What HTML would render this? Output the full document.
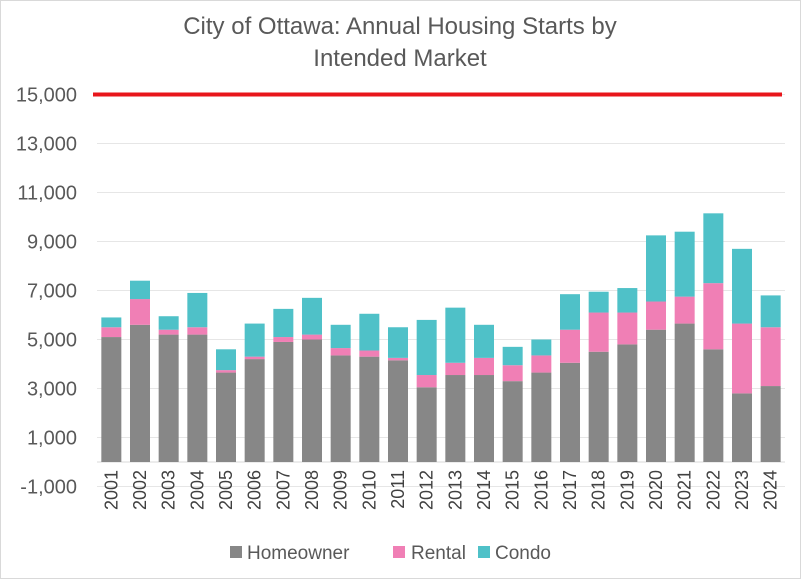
<!DOCTYPE html>
<html><head><meta charset="utf-8"><style>
html,body{margin:0;padding:0;background:#fff;}
body{width:801px;height:579px;overflow:hidden;}
svg{display:block;font-family:"Liberation Sans",sans-serif;}
</style></head><body>
<svg id="chart" width="801" height="579">
<rect x="0.5" y="0.5" width="800" height="578" fill="#fff" stroke="#d9d9d9"/>
<text x="400" y="34" text-anchor="middle" font-size="24" fill="#595959">City of Ottawa: Annual Housing Starts by</text>
<text x="400" y="66" text-anchor="middle" font-size="24" fill="#595959">Intended Market</text>
<g id="grid"></g><g id="bars"></g><g id="xlabels"></g><g id="ylabels"></g>
<g>
<rect x="230" y="546" width="12" height="12" fill="#878787"/>
<text x="247" y="559" font-size="19" fill="#595959">Homeowner</text>
<rect x="393" y="546" width="12" height="12" fill="#f07fb5"/>
<text x="411" y="559" font-size="19" fill="#595959">Rental</text>
<rect x="478" y="546" width="12" height="12" fill="#4fc1c8"/>
<text x="495" y="559" font-size="19" fill="#595959">Condo</text>
</g>
</svg>
<script>
const years=["2001","2002","2003","2004","2005","2006","2007","2008","2009","2010","2011","2012","2013","2014","2015","2016","2017","2018","2019","2020","2021","2022","2023","2024"];
const homeowner=[5100,5600,5200,5200,3650,4200,4900,5000,4350,4300,4150,3050,3550,3550,3300,3650,4050,4500,4800,5400,5650,4600,2800,3100];
const rental=[400,1050,200,300,100,100,200,200,300,250,100,500,500,700,650,700,1350,1600,1300,1150,1100,2700,2850,2400];
const condo=[400,750,550,1400,850,1350,1150,1500,950,1500,1250,2250,2250,1350,750,650,1450,850,1000,2700,2650,2850,3050,1300];
const yTicks=[-1000,1000,3000,5000,7000,9000,11000,13000,15000];
const targetLine=15000;
const NS="http://www.w3.org/2000/svg";
const x0=97,x1=785,y0px=462,pxPer=24.5/1000;
const slot=(x1-x0)/years.length,bw=20;
function yS(v){return y0px-v*pxPer;}
function xC(i){return x0+slot*(i+0.5);}
function mk(t,a,p){const e=document.createElementNS(NS,t);for(const k in a)e.setAttribute(k,a[k]);p.appendChild(e);return e;}
const grid=document.getElementById('grid'),bars=document.getElementById('bars'),xl=document.getElementById('xlabels'),yl=document.getElementById('ylabels');
yTicks.forEach(v=>{
 const l=mk('line',{x1:x0,x2:x1,y1:yS(v),y2:yS(v),stroke:'#e6e6e6','stroke-width':1},grid);
 
 
 const t=mk('text',{x:77,y:yS(v)+7,'text-anchor':'end','font-size':20,fill:'#595959'},yl);
 t.textContent=v.toLocaleString('en-US');
 
 
});
const ax=mk('line',{x1:x0,x2:x1,y1:yS(0),y2:yS(0),stroke:'#d9d9d9','stroke-width':1},grid);


const series=[[homeowner,'#878787','homeowner'],[rental,'#f07fb5','rental'],[condo,'#4fc1c8','condo']];
years.forEach((yr,i)=>{
 let base=0;
 series.forEach(([arr,c,n])=>{
  const v=arr[i];
  const r=mk('rect',{x:xC(i)-bw/2,y:yS(base+v),width:bw,height:v*pxPer,fill:c},bars);
  
  
  base+=v;
 });
 const t=mk('text',{x:0,y:0,'text-anchor':'end','font-size':18,fill:'#404040',transform:`translate(${xC(i)+6},${470}) rotate(-90)`},xl);
 t.textContent=yr;
 
 
});
const rl=mk('line',{x1:93,x2:782,y1:yS(targetLine),y2:yS(targetLine),stroke:'#e8161b','stroke-width':4},bars);


</script>
</body></html>
